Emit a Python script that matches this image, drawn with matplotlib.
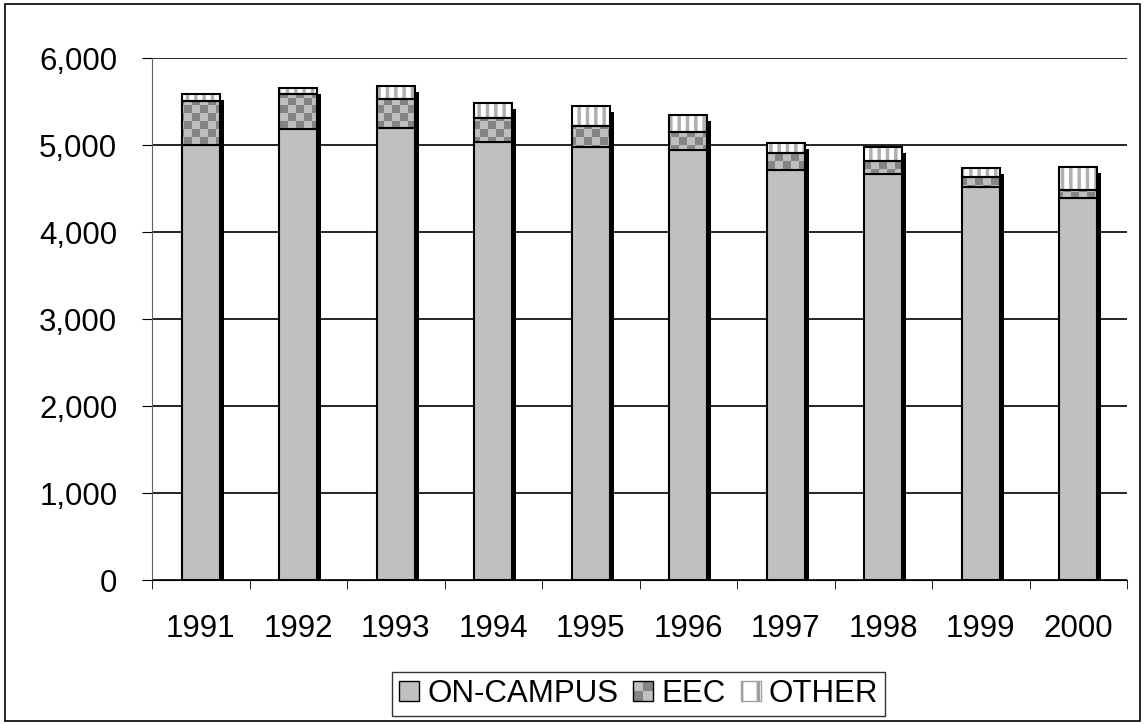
import matplotlib.pyplot as plt
import matplotlib.transforms as mtransforms
from matplotlib.patches import Rectangle, Patch, PathPatch
from matplotlib.path import Path
import numpy as np

plt.rcParams['font.family'] = ['Liberation Sans', 'DejaVu Sans']
plt.rcParams['hatch.linewidth'] = 2.5

years = ['1991', '1992', '1993', '1994', '1995', '1996', '1997', '1998', '1999', '2000']
on_campus = [5003, 5184, 5202, 5041, 4980, 4943, 4716, 4670, 4517, 4391]
eec = [506, 402, 330, 273, 238, 213, 192, 150, 119, 92]
other = [77, 76, 153, 172, 237, 192, 118, 165, 107, 264]

LIGHT = '#c0c0c0'
DARK = '#858585'

x = np.arange(len(years))
oc = np.array(on_campus)
ee = np.array(eec)
ot = np.array(other)
total = oc + ee + ot
w = 0.39

fig = plt.figure(figsize=(11.45, 7.25), dpi=100)
ax = fig.add_axes([0.1328, 0.1996, 0.8515, 0.72])
ax.set_ylim(0, 6000)
ax.set_xlim(-0.5, len(years) - 0.5)

# shadow behind the stacks
shift = mtransforms.offset_copy(ax.transData, fig=fig, x=4, y=-6, units='dots')
sh = ax.bar(x, total, w, color='black', zorder=2)
for b in sh:
    b.set_transform(shift)

ax.bar(x, oc, w, color=LIGHT, edgecolor='black', linewidth=1.5, zorder=3)

# EEC: checker fill, clipped to the bars
verts, codes = [], []
for xi, b, h in zip(x, oc, ee):
    l, r = xi - w / 2, xi + w / 2
    verts += [(l, b), (r, b), (r, b + h), (l, b + h), (l, b)]
    codes += [Path.MOVETO, Path.LINETO, Path.LINETO, Path.LINETO, Path.CLOSEPOLY]
clip = PathPatch(Path(verts, codes), transform=ax.transData)
rows, cols = 66, 122
chk = (np.add.outer(np.arange(rows), np.arange(cols)) % 2).astype(float)
rgb = np.where(chk[..., None] == 1, 0.52, 0.75) * np.ones(3)
im = ax.imshow(rgb, extent=(-0.5, len(years) - 0.5, 0, 6000), aspect='auto',
               interpolation='nearest', zorder=3, origin='lower')
im.set_clip_path(clip)
ax.bar(x, ee, w, bottom=oc, fill=False, edgecolor='black', linewidth=1.5, zorder=4)

# OTHER: vertical stripes
ax.bar(x, ot, w, bottom=oc + ee, color='white', edgecolor='#b0b0b0', hatch='||',
       linewidth=0, zorder=3)
ax.bar(x, ot, w, bottom=oc + ee, fill=False, edgecolor='black', linewidth=1.5, zorder=4)

ax.set_yticks(range(0, 6001, 1000))
ax.set_yticklabels(['{:,}'.format(v) for v in range(0, 6001, 1000)], fontsize=22.5)
ax.yaxis.grid(True, color='black', linewidth=1.2)
ax.set_axisbelow(True)

ax.set_xticks(x)
ax.set_xticklabels(years, fontsize=22.5)
ax.set_xticks(np.arange(-0.5, len(years), 1.0), minor=True)
ax.tick_params(axis='x', which='major', length=0, pad=24)
ax.tick_params(axis='x', which='minor', length=6.5, direction='out', color='black')
ax.tick_params(axis='y', length=7, direction='out', color='black', pad=18)

for s in ['top', 'right']:
    ax.spines[s].set_visible(False)
ax.spines['left'].set_color('#606060')
ax.spines['bottom'].set_color('black')


class CheckerHandler:
    def legend_artist(self, legend, orig_handle, fontsize, handlebox):
        x0, y0 = -handlebox.xdescent, -handlebox.ydescent
        hw, hh = handlebox.width / 2, handlebox.height / 2
        for i in range(2):
            for j in range(2):
                c = DARK if (i + j) % 2 == 0 else LIGHT
                handlebox.add_artist(Rectangle((x0 + i * hw, y0 + j * hh), hw, hh,
                                               facecolor=c, edgecolor='none',
                                               transform=handlebox.get_transform()))
        frame = Rectangle((x0, y0), handlebox.width, handlebox.height, fill=False,
                          edgecolor='black', linewidth=1.0,
                          transform=handlebox.get_transform())
        handlebox.add_artist(frame)
        return frame


h_oc = Patch(facecolor=LIGHT, edgecolor='black')
h_ee = Patch(facecolor=LIGHT, edgecolor='black')
h_ot = Patch(facecolor='white', edgecolor='#a0a0a0', hatch='|')
leg = fig.legend([h_oc, h_ee, h_ot], ['ON-CAMPUS', 'EEC', 'OTHER'], loc='lower center',
                 bbox_to_anchor=(0.558, 0.0124), ncol=3, fontsize=22.5,
                 frameon=True, fancybox=False, handlelength=0.64, handleheight=0.64,
                 handletextpad=0.26, columnspacing=0.48, borderpad=0.22,
                 borderaxespad=0, handler_map={h_ee: CheckerHandler()})
leg.get_frame().set_edgecolor('black')
leg.get_frame().set_linewidth(1.0)

fig.patches.append(Rectangle((0.004, 0.006), 0.992, 0.988, transform=fig.transFigure,
                             fill=False, edgecolor='black', linewidth=1.2))

fig.savefig('out.png', dpi=100)
